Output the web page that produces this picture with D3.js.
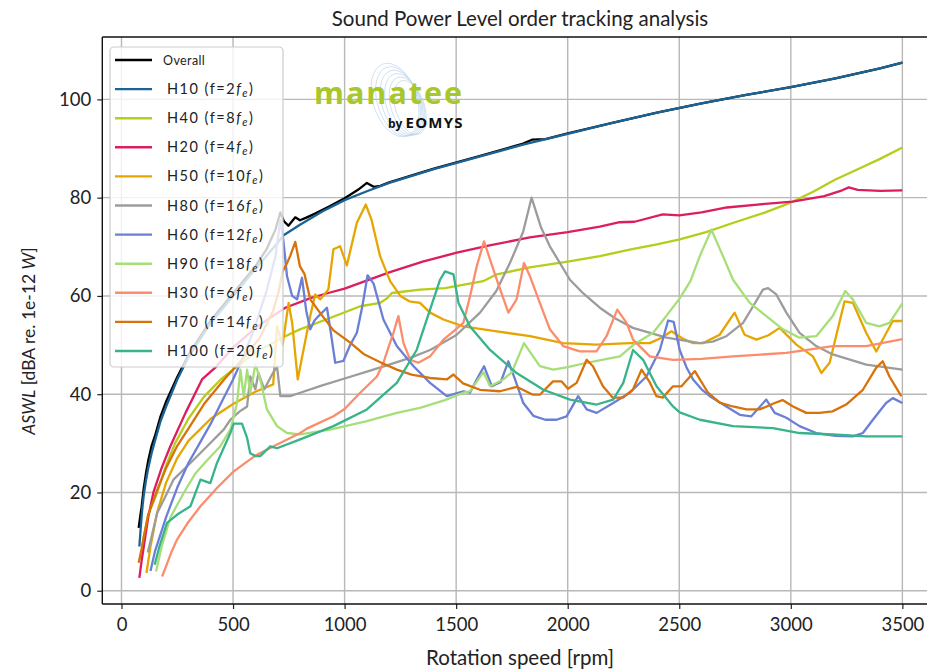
<!DOCTYPE html>
<html><head><meta charset="utf-8">
<script src="https://cdn.jsdelivr.net/npm/d3@7"></script>
<style>html,body{margin:0;padding:0;background:#fff;}svg{display:block;font-family:Lato,"Open Sans",sans-serif;}</style>
</head><body><svg id="c" width="927" height="670"></svg>
<script>
// ---- data ([rpm, dB]) ----
const overall = [[77,12.8],[85,15.5],[90,17],[100,21],[110,24],[120,26.5],[135,29.5],[150,31.5],[175,35.5],[200,38.5],[250,43.5],[300,48],[400,55],[500,60.5],[600,66],[650,69.5],[690,73.5],[712,77],[728,75.2],[748,74.3],[779,76],[800,75.4],[831,76],[870,76.8],[935,78.3],[1000,79.9],[1025,80.6],[1060,81.6],[1100,83],[1130,82.2],[1160,82.4],[1200,83.1],[1400,85.9],[1600,88.4],[1800,91],[1840,91.8],[1900,91.9],[2000,93.1],[2200,95.2],[2400,97.3],[2600,99.2],[2800,100.9],[3000,102.5],[3200,104.3],[3400,106.3],[3500,107.5]];
const h10 = [[80,9],[85,12],[90,15],[95,17.5],[100,19.5],[110,22.5],[120,25],[135,28],[150,30.5],[175,34.5],[200,37.5],[250,43],[300,47.5],[400,54.5],[500,60],[600,65.5],[700,70.8],[725,72.3],[800,74.5],[900,77.2],[1000,79.5],[1100,81.3],[1200,83],[1400,85.8],[1600,88.3],[1800,90.8],[2000,93],[2200,95.2],[2400,97.3],[2600,99.2],[2800,100.9],[3000,102.5],[3200,104.3],[3400,106.3],[3500,107.5]];
const h40 = [[85,6.3],[100,11],[120,15.5],[160,20],[200,25.5],[240,30],[300,35],[370,39.5],[445,43],[500,45],[600,48.5],[700,51],[734,51.8],[800,53.2],[935,55.5],[1070,57.9],[1160,58.6],[1190,59.5],[1212,60.6],[1338,61.3],[1450,61.6],[1621,63],[1682,64.4],[1830,65.8],[2000,67],[2144,68.1],[2278,69.4],[2400,70.5],[2502,71.5],[2620,73],[2750,75],[2880,76.9],[3000,79],[3100,81.2],[3200,83.7],[3300,85.8],[3400,87.9],[3500,90.2]];
const h20 = [[80,2.6],[90,6],[100,9],[120,15],[143,20],[180,25],[219,29.4],[250,32.5],[287,36.2],[361,43],[420,45.4],[500,49.5],[600,53.5],[734,57.6],[850,59.6],[935,60.7],[1000,61.5],[1200,64.8],[1350,67],[1503,68.8],[1650,70.3],[1830,71.9],[2000,73],[2144,74.1],[2233,75],[2300,75.1],[2426,76.6],[2500,76.4],[2600,77],[2713,78],[2850,78.6],[3008,79.2],[3150,80.3],[3230,81.5],[3260,82.1],[3300,81.6],[3400,81.4],[3500,81.5]];
const h50 = [[112,3.6],[130,9],[160,16],[200,22],[250,27],[300,30.5],[400,35],[500,38],[600,40.5],[680,42],[697,53.8],[722,50],[749,58.6],[765,54.5],[790,43],[820,50],[846,55.9],[868,60.3],[891,59.3],[927,61.3],[950,69.5],[980,70.1],[1010,66.2],[1055,74.9],[1095,78.6],[1120,75.6],[1159,68.1],[1204,63],[1250,60],[1290,58.9],[1338,58.6],[1383,56.6],[1443,55.2],[1532,53.8],[1682,52.8],[1831,51.8],[1980,50.4],[2129,50.1],[2278,50.4],[2368,50.4],[2420,51.5],[2465,52.8],[2520,51.2],[2562,50.4],[2607,50.4],[2681,52.1],[2748,56.6],[2793,52.1],[2846,51.1],[2900,52],[2950,53.5],[3025,50.1],[3099,47.7],[3137,44.3],[3174,46.4],[3241,58.9],[3278,58.6],[3338,52.5],[3383,48.7],[3457,54.9],[3500,54.9]];
const h80 = [[118,7.8],[140,12],[160,15.8],[200,19.5],[233,22.6],[309,26],[384,29.4],[458,32.8],[488,34.8],[530,36.5],[563,37.5],[577,43.6],[600,41],[614,44.3],[640,41],[675,44],[697,45.7],[712,39.6],[756,39.6],[801,40.3],[900,41.8],[1000,43.2],[1100,44.6],[1200,46],[1300,47.5],[1383,49],[1500,52],[1607,56.6],[1680,61],[1741,66.7],[1800,73],[1838,80],[1880,74],[1920,70.1],[2010,63.3],[2070,60.5],[2144,57.6],[2210,55.5],[2292,53.5],[2443,51.5],[2592,50.4],[2650,50.7],[2711,51.8],[2786,54.5],[2831,57.9],[2875,61.3],[2898,61.6],[2935,60.3],[2980,56.6],[3039,52.5],[3114,49.8],[3188,48.1],[3338,46],[3500,45]];
const h60 = [[130,4],[150,8],[200,15],[250,21],[300,26],[350,30],[400,34],[450,38.5],[500,43],[550,48],[600,54],[650,61],[690,68],[712,75.5],[725,71.5],[742,64],[765,60],[787,59.3],[809,63.7],[828,57],[846,53.2],[865,55],[883,55.9],[921,57.6],[940,52],[958,46.4],[995,46.8],[1025,50],[1055,52.5],[1080,58],[1103,64.2],[1130,62.5],[1174,55.2],[1234,49.8],[1309,45.7],[1383,42.3],[1458,39.6],[1532,40.6],[1562,40.3],[1592,43],[1625,45.7],[1660,41.6],[1700,42.5],[1734,46.7],[1764,43],[1801,38.2],[1846,35.6],[1900,34.8],[1950,34.8],[1995,35.5],[2047,39.6],[2085,36.9],[2130,36.2],[2204,38.2],[2278,40.3],[2353,43.6],[2413,49],[2450,55],[2475,54.7],[2502,49],[2532,45.5],[2562,43],[2600,41],[2637,39.6],[2711,37.5],[2771,35.8],[2823,35.5],[2890,38.9],[2928,36.2],[2980,35.2],[3039,33.5],[3114,32.1],[3200,31.5],[3278,31.4],[3323,32.1],[3368,34.8],[3427,38.2],[3457,39.2],[3500,38.2]];
const h90 = [[155,3.9],[180,9],[220,15],[280,20],[330,23.8],[383,26.5],[443,29.4],[490,33],[518,38.2],[533,45],[548,39.5],[563,45],[577,40.3],[600,46],[622,43],[652,36.9],[697,33.5],[742,32.1],[800,31.8],[935,32.8],[1100,34.5],[1234,36.2],[1338,37.2],[1450,38.8],[1532,40.3],[1562,40.6],[1622,44.5],[1652,41.6],[1711,43],[1750,44.5],[1804,50.4],[1840,48],[1875,45.7],[1935,45],[2000,45.5],[2085,46.4],[2234,47.7],[2293,50],[2383,52.5],[2443,56],[2502,59.5],[2550,63],[2592,68.1],[2644,73.5],[2696,68.1],[2741,63.3],[2816,58.6],[2890,55.9],[2965,53.2],[3039,51.5],[3114,51.8],[3188,55.9],[3244,61],[3278,59.3],[3338,54.5],[3397,53.8],[3442,54.5],[3500,58.5]];
const h30 = [[182,2.9],[200,5],[225,8],[249,10.4],[300,14],[354,17.2],[430,21],[503,24.3],[600,27.5],[682,29.4],[801,32.1],[831,33],[950,35.5],[1000,37],[1070,40.3],[1145,43.6],[1174,46.4],[1200,50],[1219,52.5],[1241,55.9],[1264,50.4],[1294,47],[1331,46.4],[1383,47.7],[1443,51.1],[1488,52.8],[1532,54.5],[1562,59.9],[1592,66],[1625,71.1],[1652,67.4],[1682,63.3],[1734,56.6],[1771,59.3],[1804,66.7],[1831,64],[1875,58.6],[1920,53.2],[1980,49.8],[2054,48.7],[2129,48.7],[2174,51.8],[2222,57.2],[2264,54.5],[2293,51.1],[2368,47.7],[2472,47],[2600,47.2],[2741,47.7],[2980,48.4],[3188,49.8],[3338,49.8],[3500,51.2]];
const h70 = [[77,5.7],[90,8.5],[100,11],[120,15.5],[160,20.5],[200,25],[250,29.5],[300,33],[370,38],[460,43],[550,47.5],[620,51.5],[680,57],[705,61],[722,65],[740,66.5],[756,68.1],[779,71],[800,66],[820,64.5],[846,59.3],[891,56.5],[950,53],[1025,50.5],[1085,48.2],[1160,46.5],[1234,45],[1300,44],[1383,43.3],[1458,43],[1488,44],[1531,42.2],[1607,40.9],[1696,40.6],[1771,41.5],[1844,39.9],[1875,39.9],[1934,42.6],[1973,42.6],[2001,41.1],[2040,42.3],[2085,47],[2113,45.7],[2158,41.6],[2202,39.3],[2247,39.3],[2292,40.9],[2331,45],[2368,42.4],[2398,39.6],[2426,39.3],[2472,41.6],[2510,41.6],[2570,44.7],[2629,40.3],[2681,38.3],[2740,37.5],[2801,36.9],[2860,36.9],[2928,38.2],[2963,38.8],[3010,37.5],[3069,36.2],[3129,36.2],[3187,36.5],[3248,37.9],[3323,40.9],[3383,45.4],[3412,46.7],[3442,43.6],[3495,39.6]];
const h100 = [[149,5.3],[170,9],[204,13.8],[250,15.5],[309,17.2],[354,22.6],[398,21.9],[428,26],[488,32.1],[503,34],[540,34],[563,31.1],[577,28],[600,27.4],[622,27.4],[667,29.4],[697,29],[801,30.8],[950,33.5],[1100,36.9],[1234,42.3],[1323,49],[1383,57.2],[1428,63.3],[1450,65],[1488,64.4],[1510,58.6],[1562,53.8],[1652,49],[1771,44.3],[1891,40.9],[2010,38.9],[2130,37.9],[2204,38.9],[2249,42.3],[2293,49],[2338,47],[2398,41.6],[2472,37.5],[2502,36.3],[2592,34.8],[2741,33.5],[2920,33.1],[3039,32.1],[3188,31.8],[3338,31.4],[3500,31.4]];

const seriesNames = ["Overall","H10","H40","H20","H50","H80","H60","H90","H30","H70","H100"];
const seriesFactors = [null,"2","8","4","10","16","12","18","6","14","20"];
const seriesData = [overall,h10,h40,h20,h50,h80,h60,h90,h30,h70,h100];
const seriesColors = ["#000000","#1b6394","#b6cd1a","#dc1e5c","#e6a602","#9c9c9c","#6b7fd6","#a6df78","#fb8c6c","#d8720a","#38b38a"];
const xTicks = [0,500,1000,1500,2000,2500,3000,3500];
const yTicks = [0,20,40,60,80,100];
const titleText = "Sound Power Level order tracking analysis";
const xLabel = "Rotation speed [rpm]";

// ---- layout ----
const svg = d3.select("#c");
const L = 102.3, R = 940.3, T = 37, B = 604;
const x = d3.scaleLinear().domain([-86, 3670]).range([L, R]);
const y = d3.scaleLinear().domain([-2.7, 112.7]).range([B, T]);

// grid
const grid = svg.append("g");
grid.selectAll("line.gx").data(xTicks).join("line")
  .attr("x1", d => x(d)).attr("x2", d => x(d)).attr("y1", T).attr("y2", B)
  .attr("stroke", "#b8b8b8").attr("stroke-width", 1.4);
grid.selectAll("line.gy").data(yTicks).join("line")
  .attr("y1", d => y(d)).attr("y2", d => y(d)).attr("x1", L).attr("x2", R)
  .attr("stroke", "#b8b8b8").attr("stroke-width", 1.4);

// lines
const line = d3.line().x(d => x(d[0])).y(d => y(d[1]));
svg.append("clipPath").attr("id","pc").append("rect").attr("x",L).attr("y",T).attr("width",R-L).attr("height",B-T);
const lg = svg.append("g").attr("clip-path","url(#pc)");
seriesData.forEach((s, i) => {
  lg.append("path").attr("d", line(s)).attr("fill","none")
    .attr("stroke", seriesColors[i]).attr("stroke-width", 2.3)
    .attr("stroke-linejoin","round").attr("stroke-linecap","butt");
});

// axes
const xAxis = d3.axisBottom(x).tickValues(xTicks).tickSize(5).tickPadding(6).tickFormat(d3.format("d"));
const yAxis = d3.axisLeft(y).tickValues(yTicks).tickSize(5).tickPadding(6).tickFormat(d3.format("d"));
const gx = svg.append("g").attr("transform", `translate(0,${B})`).call(xAxis);
const gy = svg.append("g").attr("transform", `translate(${L},0)`).call(yAxis);
[gx, gy].forEach(g => {
  g.select(".domain").remove();
  g.selectAll(".tick line").attr("stroke", "#222").attr("stroke-width", 1.2);
  g.selectAll(".tick text").attr("fill", "#222").style("font-size", "18.5px").style("font-family", "Lato, sans-serif");
});
gx.selectAll(".tick text").attr("dy", "0.85em");
// frame
svg.append("line").attr("x1",L).attr("x2",L).attr("y1",T).attr("y2",B).attr("stroke","#111").attr("stroke-width",1.4);
svg.append("line").attr("x1",L).attr("x2",R).attr("y1",B).attr("y2",B).attr("stroke","#111").attr("stroke-width",1.4);
svg.append("line").attr("x1",L).attr("x2",R).attr("y1",T).attr("y2",T).attr("stroke","#111").attr("stroke-width",1.4);

// title & labels
svg.append("text").attr("x", 520).attr("y", 26).attr("text-anchor","middle")
  .style("font-size","20.5px").attr("fill","#222").text(titleText);
svg.append("text").attr("x", 520).attr("y", 665).attr("text-anchor","middle")
  .style("font-size","20.5px").attr("fill","#222").text(xLabel);
const yl = svg.append("text").attr("transform","translate(35,341) rotate(-90)").attr("text-anchor","middle")
  .style("font-size","17.5px").attr("fill","#222");
yl.append("tspan").style("font-style","italic").text("ASWL");
yl.append("tspan").text(" [dBA re. 1e-12 ");
yl.append("tspan").style("font-style","italic").text("W");
yl.append("tspan").text("]");

// legend
const lgX = 110, lgY = 47, lgW = 173, lgH = 320;
svg.append("rect").attr("x",lgX).attr("y",lgY).attr("width",lgW).attr("height",lgH).attr("rx",4)
  .attr("fill","#fff").attr("fill-opacity",0.8).attr("stroke","#cccccc").attr("stroke-width",1.2);
seriesNames.forEach((n, i) => {
  const cy = 60 + i * 29.1;
  svg.append("line").attr("x1",115).attr("x2",152).attr("y1",cy).attr("y2",cy)
    .attr("stroke",seriesColors[i]).attr("stroke-width",2.4);
  const t = svg.append("text").attr("y", cy + 5).attr("fill","#222");
  if (seriesFactors[i] === null) {
    t.attr("x", 163).style("font-size","12.5px").style("letter-spacing","0.4px").text(n);
  } else {
    t.attr("x", 167).style("font-size","14.5px").style("letter-spacing","1.5px");
    t.append("tspan").text(n + " (f=" + seriesFactors[i]);
    t.append("tspan").style("font-style","italic").text("f");
    t.append("tspan").attr("baseline-shift","-25%").style("font-size","11px").style("font-style","italic").text("e");
    t.append("tspan").text(")");
  }
});

// logo
const logo = svg.append("g");
[0,1,2,3,4,5].forEach(k => {
  logo.append("ellipse").attr("cx", 395 + k*3).attr("cy", 100 + k*1.5).attr("rx", 22 - k*1.5).attr("ry", 38 - k*2)
    .attr("transform", `rotate(-18 ${395 + k*3} ${100 + k*1.5})`)
    .attr("fill","none").attr("stroke","#bcd3ec").attr("stroke-width",0.8).attr("opacity",0.8);
});
logo.append("text").attr("x",314).attr("y",104).style("font-size","30.5px").style("font-weight","bold")
  .style("font-family","'Open Sans', Lato, sans-serif").attr("fill","#a7c72a").attr("letter-spacing","2px").text("manatee");
const by = logo.append("text").attr("x",388).attr("y",128).attr("fill","#111").style("font-weight","bold").style("font-family","'Open Sans', sans-serif");
by.append("tspan").style("font-size","12px").text("by ");
by.append("tspan").style("font-size","15px").attr("letter-spacing","1.2px").text("EOMYS");
</script></body></html>
